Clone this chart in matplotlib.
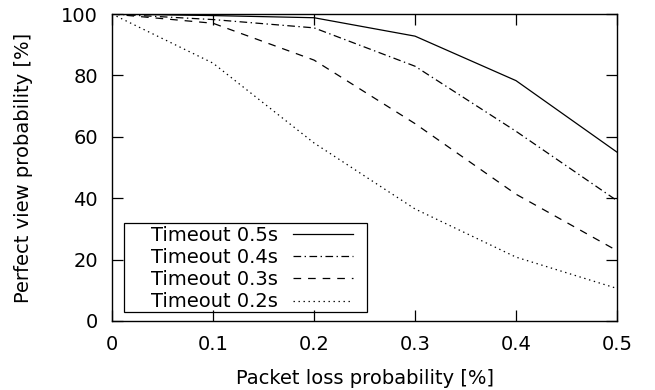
import matplotlib
matplotlib.use("Agg")
import matplotlib.pyplot as plt
from matplotlib.patches import Rectangle

plt.rcParams["font.family"] = ["DejaVu Sans"]
plt.rcParams["lines.scale_dashes"] = False

# packet loss probability [%]
loss = [0.0, 0.1, 0.2, 0.3, 0.4, 0.5]

# perfect view probability [%] per timeout
t05 = [100, 99.5, 98.8, 92.8, 78.3, 55.0]
t04 = [100, 98.2, 95.5, 83.0, 61.8, 39.2]
t03 = [100, 97.0, 85.0, 64.3, 41.3, 22.9]
t02 = [100, 84.0, 58.0, 36.5, 20.8, 10.6]

series = [
    ("Timeout 0.5s", t05, "-"),
    ("Timeout 0.4s", t04, (0, (5.5, 2.5, 1, 2.5))),
    ("Timeout 0.3s", t03, (0, (5.5, 5))),
    ("Timeout 0.2s", t02, (0, (1, 2.6))),
]

fig = plt.figure(figsize=(6.55, 3.9), dpi=100)
ax = fig.add_axes([0.171, 0.177, 0.771, 0.787])

for label, vals, ls in series:
    ax.plot(loss, vals, color="black", linewidth=0.9, linestyle=ls, label=label)

ax.set_xlim(0, 0.5)
ax.set_ylim(0, 100)
ax.set_xticks(loss)
ax.set_xticklabels(["0", "0.1", "0.2", "0.3", "0.4", "0.5"])
ax.set_yticks([0, 20, 40, 60, 80, 100])
ax.tick_params(direction="in", length=8, width=0.9, top=True, right=True,
               labelsize=14, pad=10)
for s in ax.spines.values():
    s.set_linewidth(1.0)

ax.set_xlabel("Packet loss probability [%]", fontsize=14, labelpad=11)
ax.set_ylabel("Perfect view probability [%]", fontsize=14, labelpad=20)

# legend (gnuplot style: text first, then sample), framed box drawn separately
leg = ax.legend(loc="center right", bbox_to_anchor=(0.478, 0.171), markerfirst=False,
                fontsize=14, frameon=False, handlelength=3.1, handletextpad=0.76,
                labelspacing=0.17, borderpad=0, borderaxespad=0)
for t in leg.get_texts():
    t.set_ha("right")
ax.add_patch(Rectangle((0.024, 0.029), 0.481, 0.29, transform=ax.transAxes,
                       fill=False, edgecolor="black", linewidth=0.9, zorder=5))

fig.savefig("out.png", dpi=100)
